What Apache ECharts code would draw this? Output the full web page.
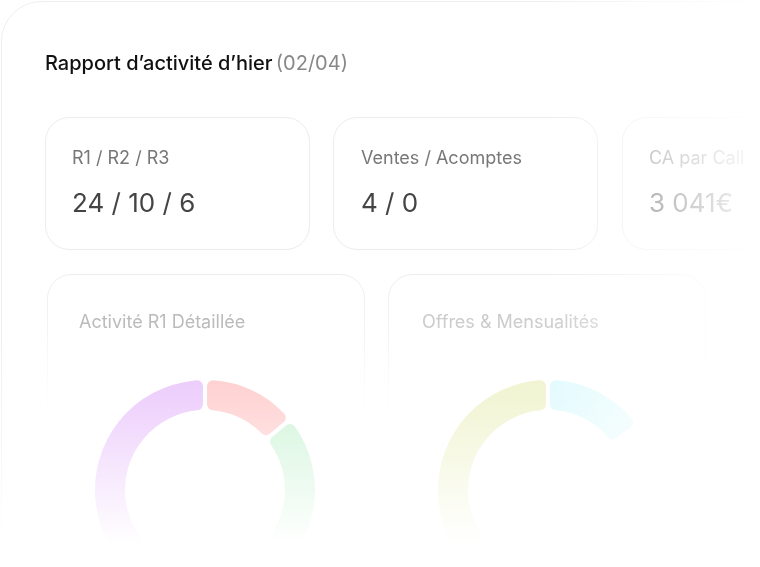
<!DOCTYPE html><html><head><meta charset="utf-8"><script src="https://cdn.jsdelivr.net/npm/echarts@6/dist/echarts.min.js"></script>
<style>html,body{margin:0;background:#fff}#c{width:760px;height:567px}</style></head><body><div id="c"></div><script>
const kpiLabels=['R1 / R2 / R3','Ventes / Acomptes','CA par Call'];
const kpiValues=['24 / 10 / 6','4 / 0','3 041€'];
const r1Names=['Rouge','Vert','Violet'];
const r1Values=[14,33,53];
const offerNames=['Cyan','Autre','Jaune'];
const offerValues=[15,30,55];
const chart=echarts.init(document.getElementById('c'));
const F='Inter, Roboto, sans-serif';
function card(x,y,w,h,fade){return {type:'rect',shape:{x,y,width:w,height:h,r:24},style:{fill:'#fff',stroke:fade?{type:'linear',x:0,y:0,x2:0,y2:1,colorStops:[{offset:0,color:'#ececec'},{offset:0.7,color:'rgba(236,236,236,0)'}]}:'#ececec',lineWidth:1},z:1};}
const g=[
 {type:'rect',shape:{x:1.5,y:1.5,width:800,height:700,r:40},style:{fill:'#fff',stroke:'#efefef'},z:0},
 {type:'text',left:45,top:54,style:{text:'{a|Rapport d’activité d’hier} {b|(02/04)}',rich:{a:{font:'500 20px '+F,fill:'#111'},b:{font:'400 20px '+F,fill:'#888'}}},z:2},
 card(45.5,117.5,264,132),card(333.5,117.5,264,132),card(622.5,117.5,264,132),
 card(47.5,274.5,317,200,true),card(388.5,274.5,317,200,true)
];
const xs=[72,361,649];
kpiLabels.forEach((t,i)=>{g.push({type:'text',left:xs[i],top:150,style:{text:t,font:'400 18px '+F,fill:'#777'},z:2});
 g.push({type:'text',left:xs[i],top:191,style:{text:kpiValues[i],font:'400 26px '+F,fill:'#444'},z:2});});
g.push({type:'text',left:79,top:314,style:{text:'Activité R1 Détaillée',font:'400 18px '+F,fill:'#bbb'},z:2});
g.push({type:'text',left:422,top:314,style:{text:'Offres & Mensualités',font:'400 18px '+F,fill:'#ccc'},z:2});
g.push({type:'rect',shape:{x:0,y:0,width:760,height:567},style:{fill:{type:'linear',x:0,y:0,x2:1,y2:0,colorStops:[{offset:0,color:'rgba(255,255,255,0)'},{offset:0.72,color:'rgba(255,255,255,0)'},{offset:0.85,color:'rgba(255,255,255,0.6)'},{offset:1,color:'rgba(255,255,255,0.97)'}]}},z:100,silent:true});
g.push({type:'rect',shape:{x:0,y:330,width:760,height:237},style:{fill:{type:'linear',x:0,y:0,x2:0,y2:1,colorStops:[{offset:0,color:'rgba(255,255,255,0)'},{offset:0.3,color:'rgba(255,255,255,0.25)'},{offset:0.9,color:'rgba(255,255,255,1)'},{offset:1,color:'#fff'}]}},z:100,silent:true});
function pie(c,names,vals,cols){return {type:'pie',center:c,radius:[78,112],startAngle:90,clockwise:true,label:{show:false},silent:true,z:5,
 itemStyle:{borderRadius:8,borderColor:'#fff',borderWidth:4},data:names.map((n,i)=>({name:n,value:vals[i],itemStyle:{color:cols[i]}}))};}
chart.setOption({animation:false,graphic:{elements:g},series:[
 pie([205,490],r1Names,r1Values,['#ffc8c8','#c8f2d2','#e9c3fb']),
 pie([548,490],offerNames,offerValues,['#dcfafd','#ffffff','#eef2c8'])
]});
</script></body></html>
